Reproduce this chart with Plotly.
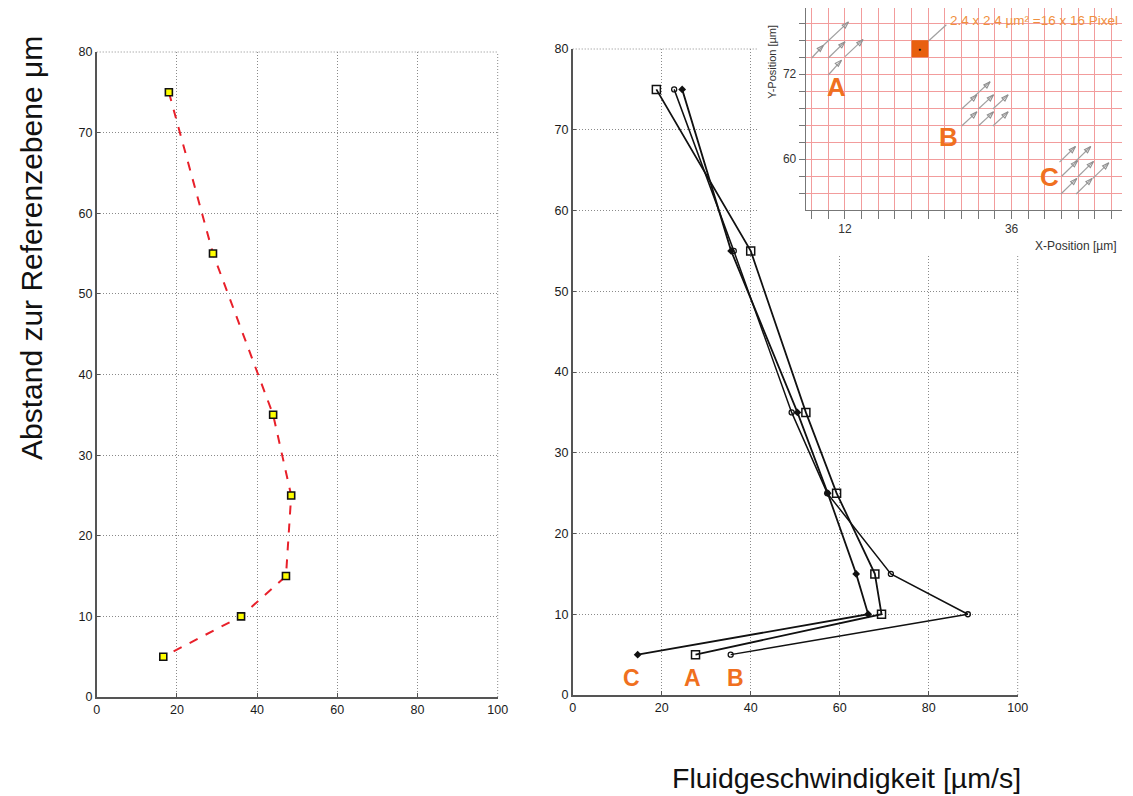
import plotly.graph_objects as go

FONT = "Liberation Sans, Arial, sans-serif"
W, H = 1133, 796

# ---------------- data ----------------
# left panel: mean profile
left_speed = [18.0, 29.0, 44.0, 48.5, 47.2, 36.0, 16.6]
left_depth = [75, 55, 35, 25, 15, 10, 5]

# right panel: three measurement regions A, B, C
depth = [75, 55, 35, 25, 15, 10, 5]
speed_A = [18.8, 40.0, 52.4, 59.3, 67.9, 69.4, 27.6]
speed_B = [22.8, 36.2, 49.2, 57.2, 71.5, 88.8, 35.5]
speed_C = [24.6, 35.6, 50.5, 57.3, 63.7, 66.4, 14.6]

x_ticks = [0, 20, 40, 60, 80, 100]
y_ticks = [0, 10, 20, 30, 40, 50, 60, 70, 80]

region_names = ["C", "A", "B"]
region_label_x = [13.3, 27.0, 36.5]
region_label_y = [2.1, 2.1, 2.1]

# inset (measurement grid, µm)
inset_xticks = [12, 36]
inset_yticks = [60, 72]
inset_grid_x = [7.2, 9.6, 12.0, 14.4, 16.8, 19.2, 21.6, 24.0, 26.4, 28.8,
                31.2, 33.6, 36.0, 38.4, 40.8, 43.2, 45.6, 48.0, 50.4]
inset_grid_y = [55.2, 57.6, 60.0, 62.4, 64.8, 67.2, 69.6, 72.0, 74.4, 76.8, 79.2]

arrA_tail_x = [7.2, 8.9, 9.6, 12.0, 9.6]
arrA_tail_y = [74.3, 76.1, 74.3, 74.5, 71.9]
arrA_head_x = [8.9, 12.5, 12.0, 14.6, 11.5]
arrA_head_y = [76.1, 79.4, 76.6, 76.9, 74.0]

arrB_head_x = [32.9, 31.0, 33.4, 35.5, 31.0, 33.4, 35.5]
arrB_head_y = [70.95, 69.1, 69.1, 69.1, 66.7, 66.7, 66.7]
arrB_len = (2.2, 2.0)

arrC_head_x = [45.2, 47.4, 45.5, 47.8, 50.0, 45.4, 47.6]
arrC_head_y = [61.8, 61.8, 59.8, 59.7, 59.5, 57.3, 57.3]
arrC_len = (2.3, 2.2)

pixel_box_x = [21.6, 24.0]
pixel_box_y = [74.4, 76.8]
pixel_text = "2.4 x 2.4 µm² =16 x 16 Pixel"
inset_labels = ["A", "B", "C"]
inset_label_x = [10.8, 26.9, 41.5]
inset_label_y = [70.25, 63.2, 57.5]

ORANGE = "#F07020"
GRIDRED = "#F29C9C"

fig = go.Figure()

# ---------------- left panel ----------------
fig.add_trace(go.Scatter(
    x=left_speed, y=left_depth, mode="lines+markers",
    line=dict(color="#E8202A", width=2, dash="dash"),
    marker=dict(symbol="square", size=7, color="#FFFF00",
                line=dict(color="#111111", width=1.6)),
    xaxis="x", yaxis="y", showlegend=False))

# ---------------- right panel ----------------
fig.add_trace(go.Scatter(
    x=speed_A, y=depth, mode="lines+markers",
    line=dict(color="#111111", width=1.8),
    marker=dict(symbol="square-open", size=8, color="#111111",
                line=dict(width=1.5)),
    xaxis="x2", yaxis="y2", showlegend=False))
fig.add_trace(go.Scatter(
    x=speed_B, y=depth, mode="lines+markers",
    line=dict(color="#111111", width=1.5),
    marker=dict(symbol="circle-open", size=5, color="#111111",
                line=dict(width=1.3)),
    xaxis="x2", yaxis="y2", showlegend=False))
fig.add_trace(go.Scatter(
    x=speed_C, y=depth, mode="lines+markers",
    line=dict(color="#111111", width=1.8),
    marker=dict(symbol="diamond", size=6, color="#111111"),
    xaxis="x2", yaxis="y2", showlegend=False))

# ---------------- cover subplot (white background of inset picture) ----------------
fig.add_trace(go.Scatter(x=[None], y=[None], xaxis="x3", yaxis="y3",
                         showlegend=False, hoverinfo="skip"))

# ---------------- inset ----------------
def arrows(tx, ty, hx, hy):
    xs, ys = [], []
    for a, b, c, d in zip(tx, ty, hx, hy):
        xs += [a, c, None]
        ys += [b, d, None]
    fig.add_trace(go.Scatter(x=xs, y=ys, mode="lines",
                             line=dict(color="#a0a0a0", width=1.2),
                             xaxis="x4", yaxis="y4", showlegend=False,
                             hoverinfo="skip"))
    fig.add_trace(go.Scatter(x=hx, y=hy, mode="markers",
                             marker=dict(symbol="arrow-open", size=7, angle=45,
                                         color="#909090", line=dict(width=1.1)),
                             xaxis="x4", yaxis="y4", showlegend=False,
                             hoverinfo="skip"))

arrows(arrA_tail_x, arrA_tail_y, arrA_head_x, arrA_head_y)
arrows([x - arrB_len[0] for x in arrB_head_x], [y - arrB_len[1] for y in arrB_head_y],
       arrB_head_x, arrB_head_y)
arrows([x - arrC_len[0] for x in arrC_head_x], [y - arrC_len[1] for y in arrC_head_y],
       arrC_head_x, arrC_head_y)

box_cx = sum(pixel_box_x) / 2
box_cy = sum(pixel_box_y) / 2
fig.add_shape(type="rect", xref="x4", yref="y4",
              x0=pixel_box_x[0], x1=pixel_box_x[1],
              y0=pixel_box_y[0], y1=pixel_box_y[1],
              fillcolor="#E8600F", line=dict(width=0), layer="above")
fig.add_trace(go.Scatter(x=[box_cx, 26.6], y=[box_cy, 79.0], mode="lines",
                         line=dict(color="#a0a0a0", width=1.2),
                         xaxis="x4", yaxis="y4", showlegend=False))
fig.add_annotation(x=box_cx, y=box_cy, xref="x4", yref="y4", text="●",
                   showarrow=False, font=dict(size=5, color="#111"))
fig.add_annotation(x=26.9, y=79.57, xref="x4", yref="y4", text=pixel_text,
                   xanchor="left", yanchor="middle", showarrow=False,
                   font=dict(family=FONT, size=13.5, color="#F09040"))
for t, lx, ly in zip(inset_labels, inset_label_x, inset_label_y):
    fig.add_annotation(x=lx, y=ly, xref="x4", yref="y4", text=f"<b>{t}</b>",
                       xanchor="center", yanchor="middle",
                       showarrow=False, font=dict(family=FONT, size=26, color=ORANGE))

for t, lx, ly in zip(region_names, region_label_x, region_label_y):
    fig.add_annotation(x=lx, y=ly, xref="x2", yref="y2", text=f"<b>{t}</b>",
                       xanchor="center", yanchor="middle",
                       showarrow=False, font=dict(family=FONT, size=23, color=ORANGE))

# ---------------- axes ----------------
def px(v):
    return v / W

def py(v):
    return 1 - v / H

main_axis = dict(
    showline=True, linecolor="#555555", linewidth=1.5,
    showgrid=True, gridcolor="#8a8a8a", gridwidth=1, griddash="1px,2px",
    zeroline=False, ticks="inside", ticklen=4, tickcolor="#555555",
    tickfont=dict(family=FONT, size=12.5, color="#1a1a1a"),
    mirror=False, automargin=False,
)

fig.update_layout(
    xaxis=dict(main_axis, domain=[px(96.7), px(497.7)], range=[0, 100],
               tickvals=x_ticks, anchor="y"),
    yaxis=dict(main_axis, domain=[py(697), py(52)], range=[0, 80],
               tickvals=y_ticks, anchor="x"),
    xaxis2=dict(main_axis, domain=[px(572.7), px(1017.7)], range=[0, 100],
                tickvals=x_ticks, anchor="y2"),
    yaxis2=dict(main_axis, domain=[py(695), py(49)], range=[0, 80],
                tickvals=y_ticks, anchor="x2"),
    xaxis3=dict(domain=[px(757), 1.0], range=[0, 1], visible=False, anchor="y3",
                fixedrange=True, automargin=False),
    yaxis3=dict(domain=[py(256), 1.0], range=[0, 1], visible=False, anchor="x3",
                fixedrange=True, automargin=False),
)

inset_axis = dict(
    showline=True, linecolor="#777777", linewidth=1,
    showgrid=True, gridcolor=GRIDRED, gridwidth=1.2,
    zeroline=False, ticks="outside", tickcolor="#777777", tickwidth=1,
    tickfont=dict(family=FONT, size=12, color="#333333"),
    automargin=False,
)
fig.update_layout(
    xaxis4=dict(inset_axis, domain=[px(805.7), px(1122)], range=[6.34, 51.9],
                tickvals=inset_xticks, ticklen=8, anchor="y4",
                minor=dict(tickvals=inset_grid_x, ticks="outside", ticklen=8,
                           tickcolor="#777777", showgrid=True,
                           gridcolor=GRIDRED, gridwidth=1.2)),
    yaxis4=dict(inset_axis, domain=[py(210), py(8)], range=[52.84, 81.36],
                tickvals=inset_yticks, ticklen=6, anchor="x4",
                minor=dict(tickvals=inset_grid_y, ticks="outside", ticklen=6,
                           tickcolor="#777777", showgrid=True,
                           gridcolor=GRIDRED, gridwidth=1.2)),
)

# dotted frame edges (top / right) of main panels
for xr, yr in (("x", "y"), ("x2", "y2")):
    fig.add_shape(type="line", xref=f"{xr} domain", yref=f"{yr} domain",
                  x0=0, x1=1, y0=1, y1=1,
                  line=dict(color="#8a8a8a", width=1, dash="1px,2px"), layer="below")
    fig.add_shape(type="line", xref=f"{xr} domain", yref=f"{yr} domain",
                  x0=1, x1=1, y0=0, y1=1,
                  line=dict(color="#8a8a8a", width=1, dash="1px,2px"), layer="below")

# titles
fig.add_annotation(x=px(31), y=py(248), xref="paper", yref="paper",
                   text="Abstand zur Referenzebene μm", textangle=-90,
                   xanchor="center", yanchor="middle",
                   showarrow=False, font=dict(family=FONT, size=30, color="#111"))
fig.add_annotation(x=px(846), y=py(778), xref="paper", yref="paper",
                   text="Fluidgeschwindigkeit [µm/s]",
                   xanchor="center", yanchor="middle",
                   showarrow=False, font=dict(family=FONT, size=28.5, color="#111"))
fig.add_annotation(x=px(771.7), y=py(62), xref="paper", yref="paper",
                   text="Y-Position [µm]", textangle=-90,
                   xanchor="center", yanchor="middle",
                   showarrow=False, font=dict(family=FONT, size=11, color="#333"))
fig.add_annotation(x=px(1119), y=py(246), xref="paper", yref="paper",
                   text="X-Position [µm]", xanchor="right", yanchor="middle",
                   showarrow=False, font=dict(family=FONT, size=12, color="#333"))

fig.update_layout(
    template="none",
    width=W, height=H, margin=dict(l=0, r=0, t=0, b=0, pad=0),
    paper_bgcolor="white", plot_bgcolor="white",
    showlegend=False, font=dict(family=FONT),
)

fig.write_html("out.html", config={"displayModeBar": False},
               post_script="document.body.style.margin='0';")
